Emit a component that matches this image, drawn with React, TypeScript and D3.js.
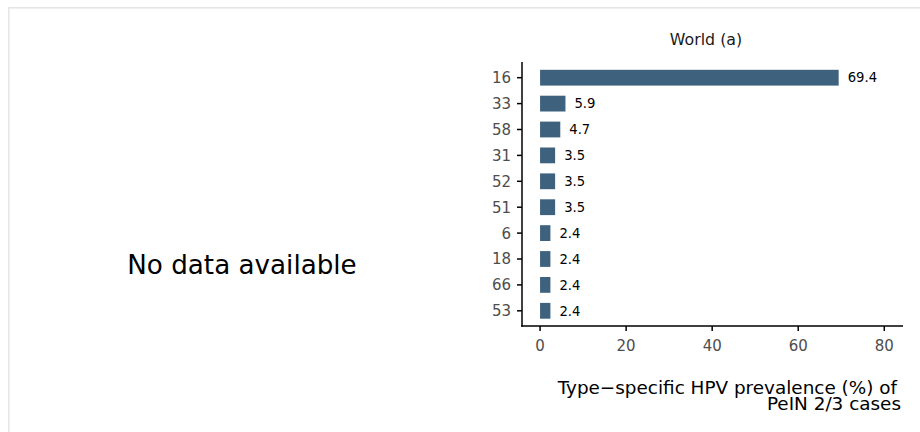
import React from "react";
import * as d3 from "d3";

const categories = ["16", "33", "58", "31", "52", "51", "6", "18", "66", "53"];
const values = [69.4, 5.9, 4.7, 3.5, 3.5, 3.5, 2.4, 2.4, 2.4, 2.4];
const xTicks = [0, 20, 40, 60, 80];
const panelTitle = "World (a)";
const noDataText = "No data available";
const xTitleLines = ["Type\u2212specific HPV prevalence (%) of", "PeIN 2/3 cases"];

const W = 920;
const H = 432;
const FONT = "DejaVu Sans, sans-serif";
const BAR = "#3e627e";

export default function App() {
  const x = d3.scaleLinear().domain([-4.2, 84.35]).range([522, 903]);
  const y = d3
    .scaleBand<string>()
    .domain(categories)
    .range([64.75, 323.75])
    .paddingInner(0.39)
    .paddingOuter(0.195);
  const axisY0 = 62;
  const axisY1 = 326;
  const axisX0 = x(-4.2);
  const axisX1 = x(84.35);

  return (
    <svg
      width={W}
      height={H}
      style={{ position: "absolute", left: 0, top: 0, background: "#fff" }}
      fontFamily={FONT}
    >
      <rect x={0} y={0} width={W} height={H} fill="#fff" />
      <rect x={8} y={7} width={W} height={1.6} fill="#e6e6e6" />
      <rect x={8} y={7} width={1.6} height={H} fill="#e6e6e6" />

      <text x={242} y={273.5} fontSize={26.2} textAnchor="middle" fill="#000">
        {noDataText}
      </text>

      <text x={706} y={45} fontSize={15.8} textAnchor="middle" fill="#1a1a1a">
        {panelTitle}
      </text>

      {categories.map((c, i) => (
        <g key={c}>
          <rect
            x={x(0)}
            y={y(c)!}
            width={x(values[i]) - x(0)}
            height={y.bandwidth()}
            fill={BAR}
          />
          <text
            x={x(values[i]) + 9}
            y={y(c)! + y.bandwidth() / 2}
            dy="0.36em"
            fontSize={13.2}
            fill="#000"
          >
            {values[i].toFixed(1)}
          </text>
          <line
            x1={axisX0 - 5}
            x2={axisX0}
            y1={y(c)! + y.bandwidth() / 2}
            y2={y(c)! + y.bandwidth() / 2}
            stroke="#000"
            strokeWidth={1.5}
          />
          <text
            x={axisX0 - 11}
            y={y(c)! + y.bandwidth() / 2}
            dy="0.36em"
            fontSize={15}
            textAnchor="end"
            fill="#4d4d4d"
          >
            {c}
          </text>
        </g>
      ))}

      {xTicks.map((t) => (
        <g key={t}>
          <line x1={x(t)} x2={x(t)} y1={axisY1} y2={axisY1 + 5} stroke="#000" strokeWidth={1.5} />
          <text x={x(t)} y={350.5} fontSize={15} textAnchor="middle" fill="#4d4d4d">
            {t}
          </text>
        </g>
      ))}

      <line x1={axisX0} x2={axisX0} y1={axisY0} y2={axisY1 + 0.75} stroke="#000" strokeWidth={1.5} />
      <line x1={axisX0 - 0.75} x2={axisX1} y1={axisY1} y2={axisY1} stroke="#000" strokeWidth={1.5} />

      <text x={897} y={394} fontSize={18.4} textAnchor="end" fill="#000">
        {xTitleLines[0]}
      </text>
      <text x={901} y={409.5} fontSize={18.4} textAnchor="end" fill="#000">
        {xTitleLines[1]}
      </text>
    </svg>
  );
}
